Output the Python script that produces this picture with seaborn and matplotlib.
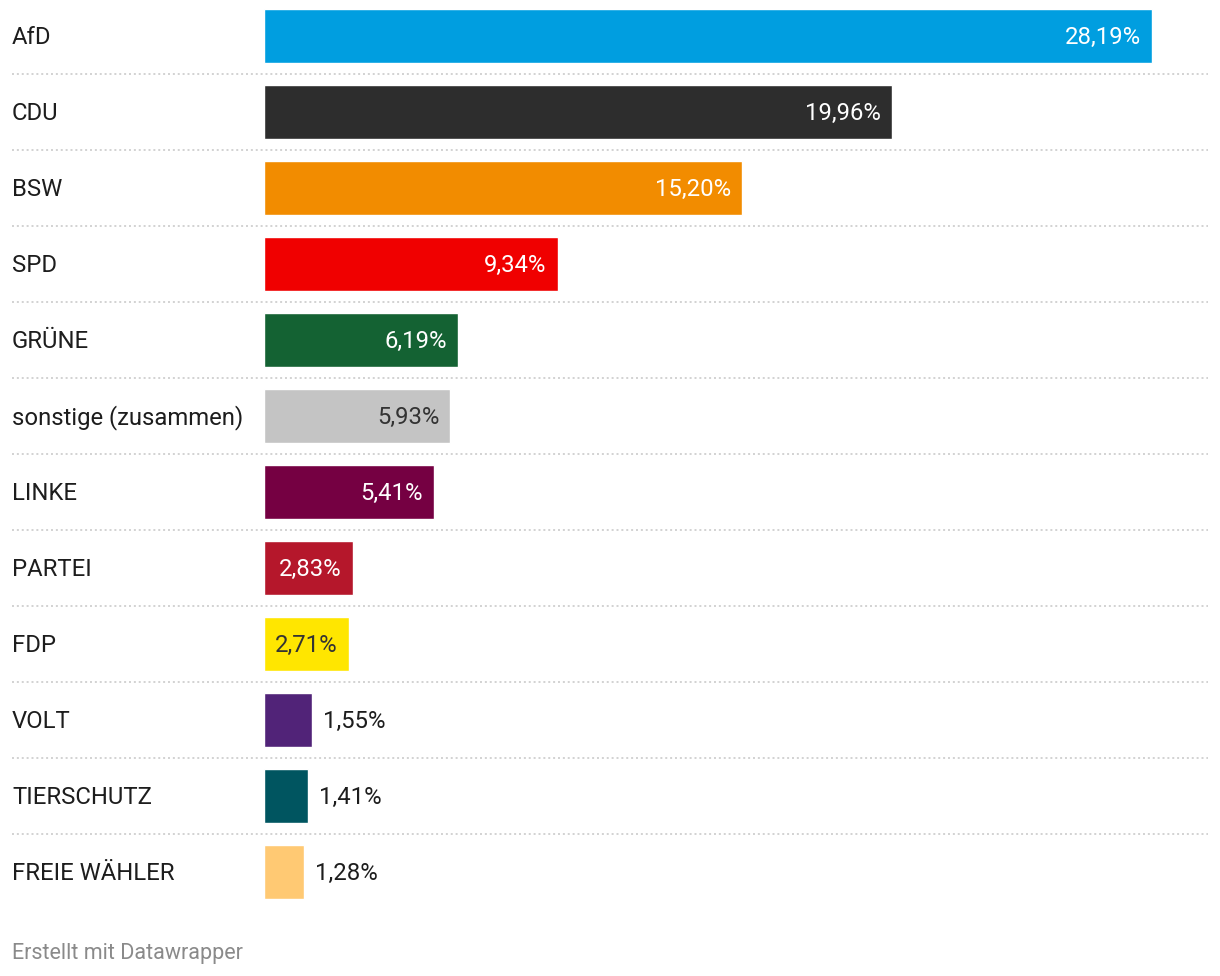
import matplotlib
matplotlib.use('Agg')
import matplotlib.pyplot as plt
import matplotlib.transforms as mtransforms
import seaborn as sns
import pandas as pd

# data
parties = ['AfD', 'CDU', 'BSW', 'SPD', 'GRÜNE', 'sonstige (zusammen)', 'LINKE',
           'PARTEI', 'FDP', 'VOLT', 'TIERSCHUTZ', 'FREIE WÄHLER']
shares = [28.19, 19.96, 15.20, 9.34, 6.19, 5.93, 5.41, 2.83, 2.71, 1.55, 1.41, 1.28]
colors = ['#009ee0', '#2d2d2d', '#f28c00', '#f00000', '#146233', '#c4c4c4', '#750042',
          '#b5172b', '#ffe600', '#512378', '#005560', '#ffc973']
dark_text = ['sonstige (zusammen)', 'FDP']

df = pd.DataFrame({'party': parties, 'share': shares})

sns.set_style('white')
plt.rcParams['font.family'] = ['Roboto', 'DejaVu Sans']

W, H = 1220, 976
fig = plt.figure(figsize=(W / 100, H / 100), dpi=100)
row = 76
n = len(parties)
top_px = -2
left_px = 263.5
ax = fig.add_axes([left_px / W, 1 - (top_px + row * n) / H, (W - left_px) / W, row * n / H])

sns.barplot(data=df, x='share', y='party', hue='party', palette=dict(zip(parties, colors)),
            saturation=1, width=54 / row, legend=False, ax=ax, orient='h')

px_per_pct = 888 / 28.19
ax.set_xlim(0, (W - left_px) / px_per_pct)
ax.set_ylim(n - 0.5, -0.5)
ax.axis('off')

fs = 17.2
label_trans = mtransforms.blended_transform_factory(fig.transFigure, ax.transData)
pad = 11 / px_per_pct
for i, (p, v) in enumerate(zip(parties, shares)):
    ax.text(12 / W, i + 0.02, p, transform=label_trans, ha='left', va='center',
            fontsize=fs, color='#1d1d1d')
    txt = f'{v:.2f}%'.replace('.', ',')
    if v > 2.5:
        c = '#333333' if p in dark_text else 'white'
        ax.text(v - pad, i + 0.02, txt, ha='right', va='center', fontsize=fs, color=c)
    else:
        ax.text(v + pad, i + 0.02, txt, ha='left', va='center', fontsize=fs, color='#1d1d1d')
    if i < n - 1:
        ax.axhline(i + 0.5, xmin=(12 - left_px) / (W - left_px),
                   xmax=(1208 - left_px) / (W - left_px),
                   color='#cfcfcf', lw=1.3, linestyle=(0, (1.1, 1.6)), clip_on=False)

fig.text(12 / W, 1 - 954 / H, 'Erstellt mit Datawrapper', ha='left', va='center',
         fontsize=15.5, color='#8a8a8a')

fig.savefig('out.png', dpi=100)
